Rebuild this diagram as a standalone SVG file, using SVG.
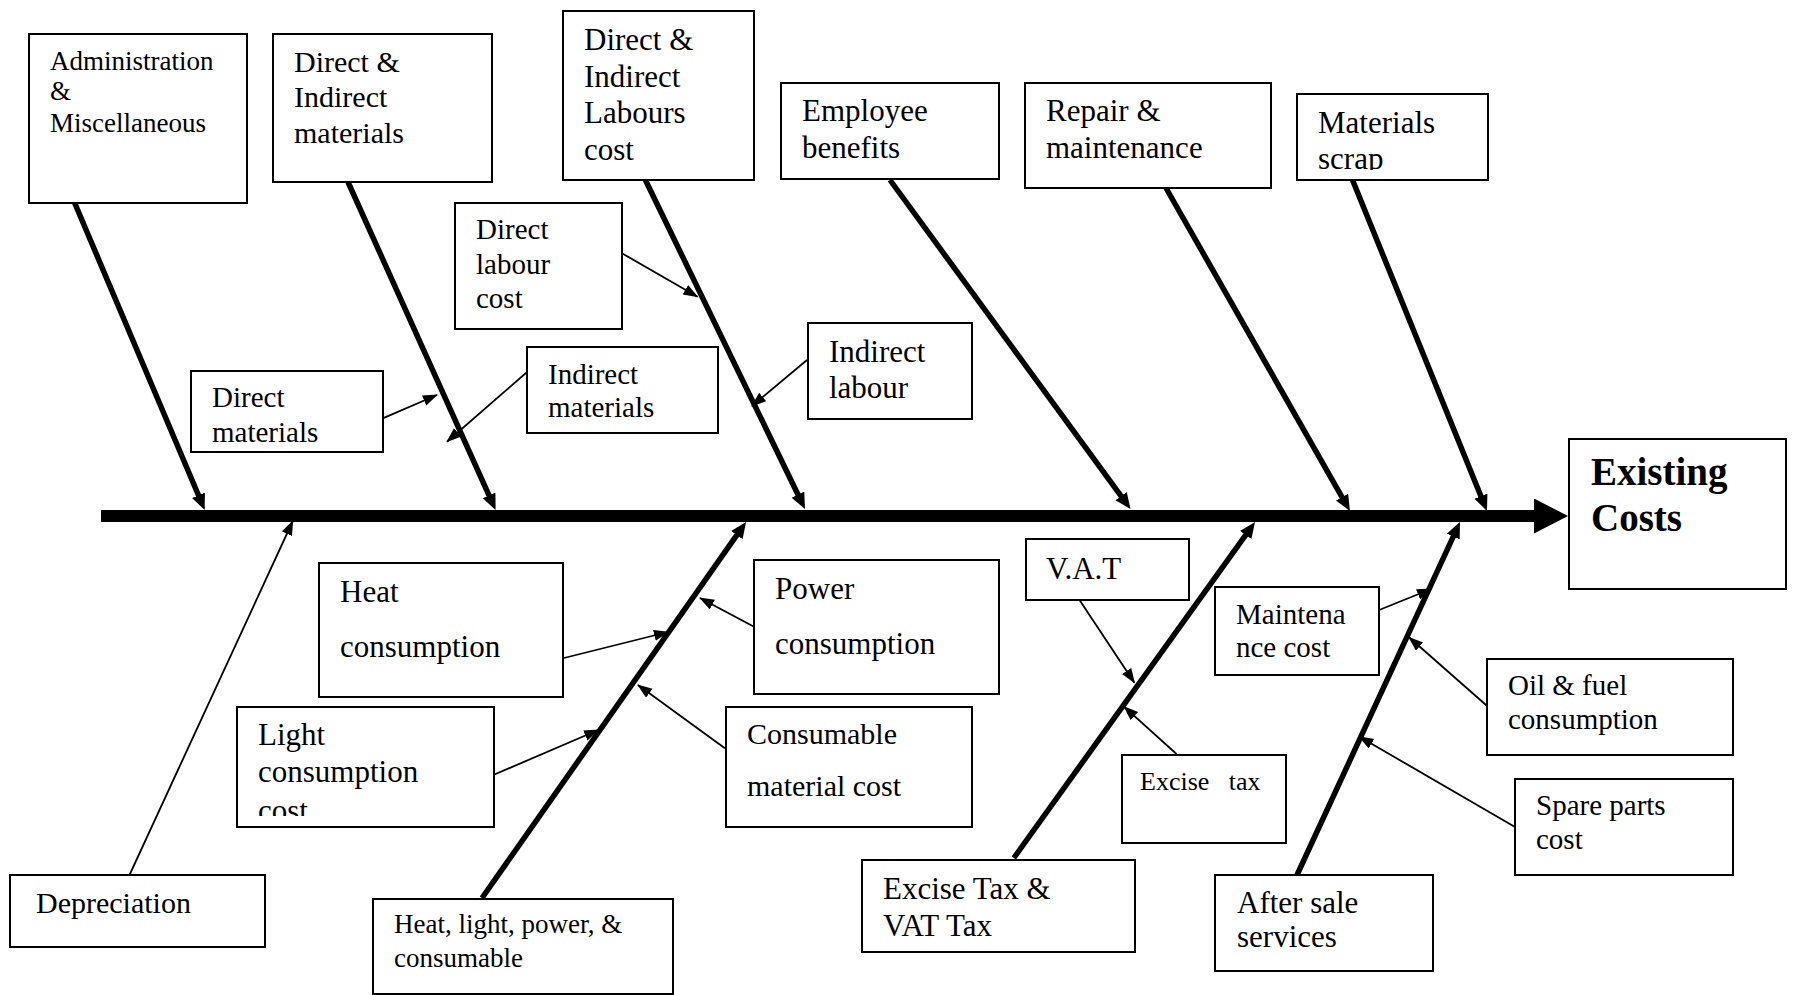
<svg xmlns="http://www.w3.org/2000/svg" width="1798" height="995" viewBox="0 0 1798 995">
  <style>
    .box { fill: #ffffff; stroke: #000000; stroke-width: 2; }
    .lbl { font-family: "Liberation Serif", "Times New Roman", serif; fill: #000000; }
    .head { font-family: "Liberation Serif", "Times New Roman", serif; font-weight: bold; fill: #000000; }
    .spine { stroke: #000000; stroke-width: 12; fill: none; }
    .bone { stroke: #000000; stroke-width: 5.5; fill: none; marker-end: url(#bone-tip); }
    .twig { stroke: #000000; stroke-width: 1.8; fill: none; marker-end: url(#twig-tip); }
  </style>
  <defs>
    <marker id="spine-tip" markerUnits="userSpaceOnUse" markerWidth="36" markerHeight="36" refX="0" refY="17.5" orient="auto">
      <path d="M0,0 L34,17.5 L0,35 z" fill="#000000"/>
    </marker>
    <marker id="bone-tip" markerUnits="userSpaceOnUse" markerWidth="18" markerHeight="16" refX="6" refY="7" orient="auto">
      <path d="M0,0 L16,7 L0,14 z" fill="#000000"/>
    </marker>
    <marker id="twig-tip" markerUnits="userSpaceOnUse" markerWidth="16" markerHeight="12" refX="14" refY="5.5" orient="auto">
      <path d="M0,0 L15,5.5 L0,11 z" fill="#000000"/>
    </marker>
    <clipPath id="clip-scrap"><rect x="1297" y="94" width="191" height="76"/></clipPath>
    <clipPath id="clip-light"><rect x="237" y="707" width="257" height="109"/></clipPath>
  </defs>
  <rect width="1798" height="995" fill="#ffffff"/>

  <!-- spine, bones and small arrows -->
  <g id="connectors">
    <line class="spine" x1="101" y1="516" x2="1534" y2="516" marker-end="url(#spine-tip)"/>
    <!-- upper bones -->
    <line class="bone" x1="74.6" y1="202.7" x2="200.8" y2="500.8"/>
    <line class="bone" x1="348" y1="182" x2="491.5" y2="500.9"/>
    <line class="bone" x1="645.4" y1="180" x2="800.6" y2="500"/>
    <line class="bone" x1="890" y1="180" x2="1124.6" y2="500.9"/>
    <line class="bone" x1="1166" y1="188" x2="1345" y2="502.3"/>
    <line class="bone" x1="1352.5" y1="180" x2="1483.2" y2="501.7"/>
    <!-- lower bones -->
    <line class="bone" x1="482" y1="898" x2="740.3" y2="530.2"/>
    <line class="bone" x1="1013.8" y1="858" x2="1249.2" y2="530.1"/>
    <line class="bone" x1="1297" y1="875" x2="1455.8" y2="531.1"/>
    <!-- thin arrows -->
    <line class="twig" x1="129.5" y1="875" x2="292.8" y2="521"/>
    <line class="twig" x1="621.5" y1="253" x2="697.5" y2="296.8"/>
    <line class="twig" x1="382.7" y1="418.3" x2="437" y2="395"/>
    <line class="twig" x1="527.4" y1="371.7" x2="447" y2="441.7"/>
    <line class="twig" x1="807" y1="360" x2="752" y2="406"/>
    <line class="twig" x1="564" y1="658" x2="668" y2="632"/>
    <line class="twig" x1="754" y1="626.7" x2="700" y2="598"/>
    <line class="twig" x1="491" y1="776" x2="598.2" y2="730"/>
    <line class="twig" x1="724.9" y1="748.3" x2="638" y2="685"/>
    <line class="twig" x1="1080" y1="600.7" x2="1134.4" y2="682.7"/>
    <line class="twig" x1="1176.5" y1="754" x2="1124" y2="706.7"/>
    <line class="twig" x1="1379.2" y1="610" x2="1431" y2="589"/>
    <line class="twig" x1="1488" y1="706.7" x2="1409" y2="637.3"/>
    <line class="twig" x1="1514.6" y1="826.7" x2="1359.4" y2="736.7"/>
  </g>

  <g id="admin">
    <rect class="box" x="29" y="34" width="218" height="169"/>
    <text class="lbl" font-size="27"><tspan x="50" y="70">Administration</tspan><tspan x="50" y="100">&amp;</tspan><tspan x="50" y="132">Miscellaneous</tspan></text>
  </g>
  <g id="materials">
    <rect class="box" x="273" y="34" width="219" height="148"/>
    <text class="lbl" font-size="30"><tspan x="294" y="72">Direct &amp;</tspan><tspan x="294" y="107">Indirect</tspan><tspan x="294" y="143">materials</tspan></text>
  </g>
  <g id="labours">
    <rect class="box" x="563" y="11" width="191" height="169"/>
    <text class="lbl" font-size="31"><tspan x="584" y="50">Direct &amp;</tspan><tspan x="584" y="87">Indirect</tspan><tspan x="584" y="123">Labours</tspan><tspan x="584" y="160">cost</tspan></text>
  </g>
  <g id="employee">
    <rect class="box" x="781" y="83" width="218" height="96"/>
    <text class="lbl" font-size="31"><tspan x="802" y="121">Employee</tspan><tspan x="802" y="158">benefits</tspan></text>
  </g>
  <g id="repair">
    <rect class="box" x="1025" y="83" width="246" height="105"/>
    <text class="lbl" font-size="31"><tspan x="1046" y="121">Repair &amp;</tspan><tspan x="1046" y="158">maintenance</tspan></text>
  </g>
  <g id="scrap">
    <rect class="box" x="1297" y="94" width="191" height="86"/>
    <text class="lbl" font-size="31" clip-path="url(#clip-scrap)"><tspan x="1318" y="133">Materials</tspan><tspan x="1318" y="169">scrap</tspan></text>
  </g>
  <g id="direct-labour">
    <rect class="box" x="455" y="203" width="167" height="126"/>
    <text class="lbl" font-size="29"><tspan x="476" y="239">Direct</tspan><tspan x="476" y="274">labour</tspan><tspan x="476" y="308">cost</tspan></text>
  </g>
  <g id="direct-materials">
    <rect class="box" x="191" y="371" width="192" height="81"/>
    <text class="lbl" font-size="29"><tspan x="212" y="407">Direct</tspan><tspan x="212" y="442">materials</tspan></text>
  </g>
  <g id="indirect-materials">
    <rect class="box" x="527" y="347" width="191" height="86"/>
    <text class="lbl" font-size="29"><tspan x="548" y="384">Indirect</tspan><tspan x="548" y="417">materials</tspan></text>
  </g>
  <g id="indirect-labour">
    <rect class="box" x="808" y="323" width="164" height="96"/>
    <text class="lbl" font-size="31"><tspan x="829" y="362">Indirect</tspan><tspan x="829" y="398">labour</tspan></text>
  </g>
  <g id="existing-costs">
    <rect class="box" x="1569" y="439" width="217" height="150"/>
    <text class="head" font-size="39"><tspan x="1591" y="485">Existing</tspan><tspan x="1591" y="531">Costs</tspan></text>
  </g>
  <g id="depreciation">
    <rect class="box" x="10" y="875" width="255" height="72"/>
    <text class="lbl" font-size="30" x="36" y="913">Depreciation</text>
  </g>
  <g id="heat">
    <rect class="box" x="319" y="563" width="244" height="134"/>
    <text class="lbl" font-size="31"><tspan x="340" y="602">Heat</tspan><tspan x="340" y="657">consumption</tspan></text>
  </g>
  <g id="power">
    <rect class="box" x="754" y="560" width="245" height="134"/>
    <text class="lbl" font-size="31"><tspan x="775" y="599">Power</tspan><tspan x="775" y="654">consumption</tspan></text>
  </g>
  <g id="light">
    <rect class="box" x="237" y="707" width="257" height="120"/>
    <text class="lbl" font-size="31" clip-path="url(#clip-light)"><tspan x="258" y="745">Light</tspan><tspan x="258" y="782">consumption</tspan><tspan x="258" y="821">cost</tspan></text>
  </g>
  <g id="consumable">
    <rect class="box" x="726" y="707" width="246" height="120"/>
    <text class="lbl" font-size="30"><tspan x="747" y="744">Consumable</tspan><tspan x="747" y="796">material cost</tspan></text>
  </g>
  <g id="utilities">
    <rect class="box" x="373" y="899" width="300" height="95"/>
    <text class="lbl" font-size="27"><tspan x="394" y="933">Heat, light, power, &amp;</tspan><tspan x="394" y="967">consumable</tspan></text>
  </g>
  <g id="vat">
    <rect class="box" x="1026" y="539" width="163" height="61"/>
    <text class="lbl" font-size="31" x="1046" y="579">V.A.T</text>
  </g>
  <g id="maintenance-cost">
    <rect class="box" x="1215" y="587" width="164" height="88"/>
    <text class="lbl" font-size="29"><tspan x="1236" y="624">Maintena</tspan><tspan x="1236" y="657">nce cost</tspan></text>
  </g>
  <g id="excise">
    <rect class="box" x="1122" y="755" width="164" height="88"/>
    <text class="lbl" font-size="26" x="1140" y="790" xml:space="preserve">Excise   tax</text>
  </g>
  <g id="taxes">
    <rect class="box" x="862" y="860" width="273" height="92"/>
    <text class="lbl" font-size="31"><tspan x="883" y="899">Excise Tax &amp;</tspan><tspan x="883" y="936">VAT Tax</tspan></text>
  </g>
  <g id="oil-fuel">
    <rect class="box" x="1487" y="659" width="246" height="96"/>
    <text class="lbl" font-size="29"><tspan x="1508" y="695">Oil &amp; fuel</tspan><tspan x="1508" y="729">consumption</tspan></text>
  </g>
  <g id="spare-parts">
    <rect class="box" x="1515" y="779" width="218" height="96"/>
    <text class="lbl" font-size="29"><tspan x="1536" y="815">Spare parts</tspan><tspan x="1536" y="849">cost</tspan></text>
  </g>
  <g id="after-sale">
    <rect class="box" x="1215" y="875" width="218" height="96"/>
    <text class="lbl" font-size="31"><tspan x="1237" y="913">After sale</tspan><tspan x="1237" y="947">services</tspan></text>
  </g>
</svg>
